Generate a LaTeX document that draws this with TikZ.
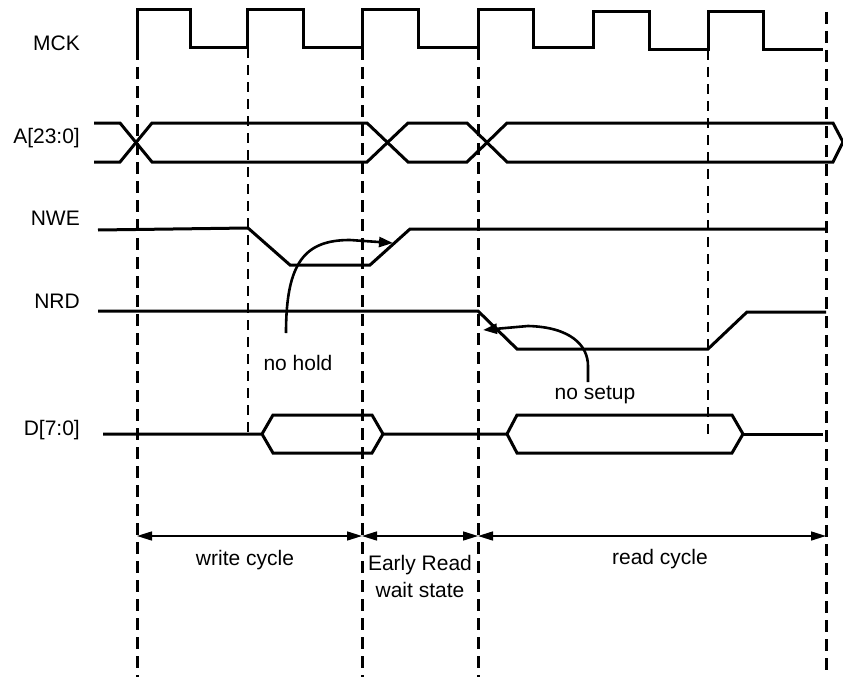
\documentclass[tikz,border=0pt]{standalone}
\usepackage{fontspec}
\setmainfont{Liberation Sans}
\usetikzlibrary{arrows.meta}
\begin{document}
\begin{tikzpicture}[x=1pt, y=-1pt, line join=miter,
  sig/.style={line width=3pt},
  cycle line/.style={line width=3pt, dash pattern=on 12pt off 7pt},
  ref line/.style={line width=1.7pt, dash pattern=on 10pt off 7pt},
  note arrow/.style={line width=2.6pt, -{Triangle[length=14pt,width=10pt]}},
  span arrow/.style={line width=1.5pt, {Triangle[length=15pt,width=9pt]}-{Triangle[length=15pt,width=9pt]}}]
\useasboundingbox (0,0) rectangle (843,677);
\begin{scope}[every node/.style={font=\fontsize{21}{27}\selectfont, inner sep=0pt}]
\node[anchor=east] (mck) at (80,43) {MCK};
\node[anchor=east] (addr) at (80,138) {A[23:0]};
\node[anchor=east] (nwe) at (80,218) {NWE};
\node[anchor=east] (nrd) at (80,301) {NRD};
\node[anchor=east] (data) at (80,430) {D[7:0]};
\node (nohold) at (298,363) {no hold};
\node (nosetup) at (595,395) {no setup};
\node (write) at (245,560) {write cycle};
\node[align=center] (early) at (420,576) {Early Read\\wait state};
\node (read) at (660,559) {read cycle};
\end{scope}
\begin{scope}
\draw[cycle line] (137,48) -- (137,677);
\draw[cycle line] (362,48) -- (362,677);
\draw[cycle line] (478,48) -- (478,677);
\draw[cycle line] (826,12) -- (826,677);
\draw[ref line] (248,48) -- (248,435);
\draw[ref line] (708,50) -- (708,435);
\end{scope}
\begin{scope}
\draw[sig] (137,48) -- (137,10) -- (190,10) -- (190,48) -- (247,48) -- (247,10) -- (303,10) -- (303,48)
  -- (362,48) -- (362,10) -- (418,10) -- (418,48) -- (478,48) -- (478,10) -- (533,10) -- (533,48)
  -- (593,48) -- (593,12) -- (649,12) -- (649,50) -- (708,50) -- (708,12) -- (763,12) -- (763,50) -- (823,50);
\draw[sig] (94,123) -- (120,123) -- (152,162) -- (367,162) -- (408,123) -- (467,123) -- (507,162) -- (833,162) -- (843,142);
\draw[sig] (94,162) -- (120,162) -- (152,123) -- (367,123) -- (408,162) -- (467,162) -- (507,123) -- (833,123) -- (843,142);
\draw[sig] (98,230) -- (248,228) -- (290,265) -- (370,265) -- (410,229) -- (826,229);
\draw[sig] (98,311) -- (478,311) -- (517,349) -- (708,349) -- (747,312) -- (826,312);
\draw[sig] (103,434) -- (262,434) -- (273,415) -- (372,415) -- (383,434) -- (372,453) -- (273,453) -- (262,434);
\draw[sig] (383,434) -- (507,434) -- (517,415) -- (732,415) -- (743,434) -- (732,453) -- (517,453) -- (507,434);
\draw[sig] (743,434) -- (823,434);
\end{scope}
\begin{scope}
\coordinate (hold from) at (286,333);
\coordinate (hold to) at (393,243);
\coordinate (setup from) at (588,382);
\coordinate (setup to) at (483,330);
\draw[note arrow] (hold from) .. controls (286,262) and (305,240) .. (350,240) -- (hold to);
\draw[note arrow] (setup from) -- (588,366) .. controls (588,345) and (570,327) .. (528,326) -- (setup to);
\coordinate (c0) at (137,536);
\coordinate (c1) at (362,536);
\coordinate (c2) at (478,536);
\coordinate (c3) at (826,536);
\draw[span arrow] (c0) -- (c1);
\draw[span arrow] (c1) -- (c2);
\draw[span arrow] (c2) -- (c3);
\end{scope}
\end{tikzpicture}
\end{document}
